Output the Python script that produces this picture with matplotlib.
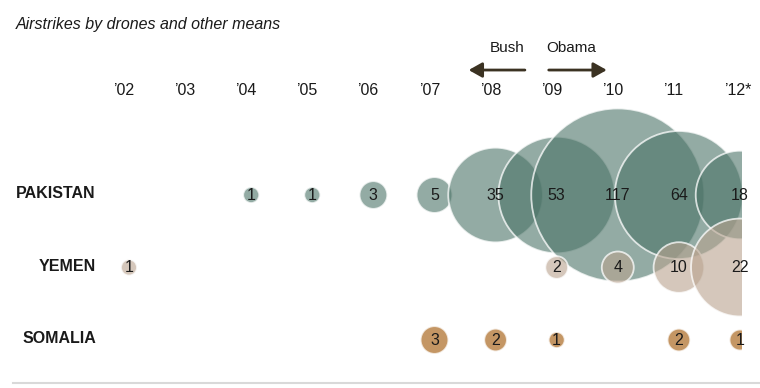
import numpy as np
import matplotlib.pyplot as plt
from matplotlib.lines import Line2D

plt.rcParams['font.family'] = ['Liberation Sans', 'DejaVu Sans']

years       = [2002, 2003, 2004, 2005, 2006, 2007, 2008, 2009, 2010, 2011, 2012]
year_labels = ["’02", "’03", "’04", "’05", "’06", "’07", "’08", "’09", "’10", "’11", "’12*"]

countries = ["PAKISTAN", "YEMEN", "SOMALIA"]

pk_years  = [2004, 2005, 2006, 2007, 2008, 2009, 2010, 2011, 2012]
pk_vals   = [1, 1, 3, 5, 35, 53, 117, 64, 18]
ye_years  = [2002, 2009, 2010, 2011, 2012]
ye_vals   = [1, 2, 4, 10, 22]
so_years  = [2007, 2008, 2009, 2011, 2012]
so_vals   = [3, 2, 1, 2, 1]

# 2012 is a partial year; its bubbles are drawn at a projected full-year size
proj_2012 = 1.7

colors = {
    "PAKISTAN": (75 / 255, 115 / 255, 103 / 255, 0.6),
    "YEMEN":    (185 / 255, 163 / 255, 143 / 255, 0.6),
    "SOMALIA":  (196 / 255, 150 / 255, 100 / 255, 1.0),
}

series = [
    ("PAKISTAN", pk_years, pk_vals),
    ("YEMEN",    ye_years, ye_vals),
    ("SOMALIA",  so_years, so_vals),
]

fig = plt.figure(figsize=(7.6, 3.88), dpi=100)
ax = fig.add_axes([0, 0, 742 / 760, 1])
ax.set_xlim(1999.889, 2012.033)
ax.set_ylim(2.662, -2.690)
ax.axis("off")

# bubble area proportional to value, radius ~8 px per sqrt(strike)
k_px = 8.0
for row, (name, yrs, vals) in enumerate(series):
    vals = np.array(vals, dtype=float)
    sizes = np.where(np.array(yrs) == 2012, vals * proj_2012, vals)
    s = (2 * k_px * np.sqrt(sizes) * 72 / 100) ** 2
    ax.scatter(yrs, [row] * len(yrs), s=s, color=colors[name],
               edgecolors=(1, 1, 1, 0.75), linewidths=1.3, zorder=2 + row)
    for x, v in zip(yrs, vals):
        ax.text(x, row, f"{int(v)}", ha="center", va="center",
                fontsize=11.5, color="#1a1a1a", zorder=10)
    ax.text(2001.46, row - 0.02, name, ha="right", va="center",
            fontsize=11.5, fontweight="bold", color="#1a1a1a")

# year labels
for x, lab in zip(years, year_labels):
    ax.text(x - 0.26, -1.448, lab, ha="left", va="center",
            fontsize=11.5, color="#1a1a1a")

# Bush / Obama arrows
arrow_kw = dict(arrowstyle="-|>,head_length=0.8,head_width=0.45",
                color="#3b3222", lw=2, shrinkA=0, shrinkB=0)
ax.annotate("", xy=(2007.56, -1.724), xytext=(2008.48, -1.724), arrowprops=arrow_kw)
ax.annotate("", xy=(2009.82, -1.724), xytext=(2008.87, -1.724), arrowprops=arrow_kw)
ax.text(2008.19, -2.034, "Bush", ha="center", va="center", fontsize=11, color="#1a1a1a")
ax.text(2009.23, -2.034, "Obama", ha="center", va="center", fontsize=11, color="#1a1a1a")

fig.text(16 / 760, 1 - 24 / 388, "Airstrikes by drones and other means",
         ha="left", va="center", fontsize=11.5, style="italic", color="#1a1a1a")

fig.add_artist(Line2D([13 / 760, 1], [1 - 383 / 388] * 2, color="#d9d9d9", lw=1.5))

fig.savefig("out.png", dpi=100)
